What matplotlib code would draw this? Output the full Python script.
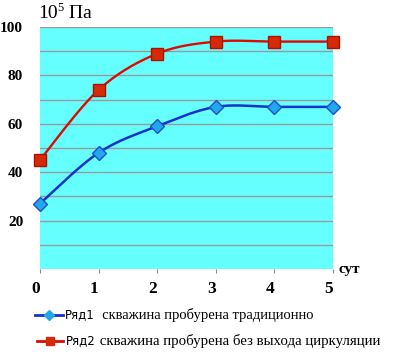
import numpy as np
import matplotlib
matplotlib.use("Agg")
import matplotlib.pyplot as plt
from matplotlib.lines import Line2D

days = [0, 1, 2, 3, 4, 5]
series1 = [27, 48, 59, 67, 67, 67]
series2 = [45, 74, 89, 94, 94, 94]
xticks = [0, 1, 2, 3, 4, 5]
yticks = [20, 40, 60, 80, 100]
label1_a = "Ряд1"
label1_b = "  скважина пробурена традиционно"
label2_a = "Ряд2"
label2_b = " скважина пробурена без выхода циркуляции"

W, H = 395, 361


def smooth(x, y, n=30):
    # Catmull-Rom style smoothing for drawing only (like Excel smoothed line)
    x = np.asarray(x, float); y = np.asarray(y, float)
    px = np.concatenate([[x[0]], x, [x[-1]]])
    py = np.concatenate([[y[0]], y, [y[-1]]])
    xs, ys = [], []
    for i in range(1, len(px) - 2):
        p0, p1, p2, p3 = [np.array([px[j], py[j]]) for j in (i - 1, i, i + 1, i + 2)]
        c1 = p1 + (p2 - p0) / 6
        c2 = p2 - (p3 - p1) / 6
        t = np.linspace(0, 1, n)[:, None]
        b = (1 - t) ** 3 * p1 + 3 * (1 - t) ** 2 * t * c1 + 3 * (1 - t) * t ** 2 * c2 + t ** 3 * p2
        xs.extend(b[:, 0]); ys.extend(b[:, 1])
    return np.array(xs), np.array(ys)


fig = plt.figure(figsize=(W / 100, H / 100), dpi=100)
ax = fig.add_axes([0.101, 0.255, 0.742, 0.670])
ax.set_facecolor("#66ffff")
ax.set_xlim(0, 5)
ax.set_ylim(0, 100)
for yv in range(10, 101, 10):
    ax.axhline(yv, color="#9a9a9a", lw=1.0, zorder=1)

blue = "#1433cc"
red = "#dd0a00"
sx, sy = smooth(days, series1)
ax.plot(sx, sy, color=blue, lw=1.8, zorder=3, clip_on=False)
ax.plot(days, series1, ls="none", marker="D", ms=7, mfc="#22a8e8", mec="#1a50d0", mew=1.0, zorder=4, clip_on=False)
sx, sy = smooth(days, series2)
ax.plot(sx, sy, color=red, lw=1.7, zorder=3, clip_on=False)
ax.plot(days, series2, ls="none", marker="s", ms=8, mfc="#d42a08", mec="#b01000", mew=1.0, zorder=4, clip_on=False)

for s in ax.spines.values():
    s.set_visible(False)
ax.set_xticks(xticks)
ax.set_yticks(yticks)
ax.tick_params(axis="x", length=3, color="#888888", pad=6)
ax.tick_params(axis="y", length=0, pad=12)
ax.set_xticklabels([str(v) for v in xticks], fontfamily="Liberation Serif", fontweight="bold", fontsize=12.5)
ax.set_yticklabels([str(v) for v in yticks], fontfamily="Liberation Serif", fontweight="bold", fontsize=11)
for lab in ax.get_xticklabels():
    lab.set_horizontalalignment("right")

# y-axis unit label
ty = 1 - 14 / H
t0 = fig.text(38 / W, ty, "10", fontfamily="Liberation Serif", fontsize=14, va="center", ha="left")
fig.canvas.draw()
b0 = t0.get_window_extent()
t1 = fig.text(b0.x1 / W, ty + 0.018, "5", fontfamily="Liberation Serif", fontsize=9, va="center", ha="left")
fig.canvas.draw()
b1 = t1.get_window_extent()
fig.text(b1.x1 / W, ty, " Па", fontfamily="Liberation Serif", fontsize=14, va="center", ha="left")

fig.text(0.857, 1 - 270 / H, "сут", fontfamily="Liberation Serif", fontweight="bold", fontsize=11, va="center", ha="left")

# legend
y1 = 1 - 315 / H
y2 = 1 - 341 / H
fig.add_artist(Line2D([35 / W, 63 / W], [y1, y1], color=blue, lw=2))
fig.add_artist(Line2D([49 / W], [y1], marker="D", ms=5, mfc="#22a8e8", mec="#22a8e8", ls="none"))
fig.add_artist(Line2D([37 / W, 63 / W], [y2, y2], color=red, lw=2))
fig.add_artist(Line2D([50 / W], [y2], marker="s", ms=6, mfc="#d42a08", mec="#d42a08", ls="none"))
t = fig.text(65 / W, y1, label1_a, fontfamily="DejaVu Sans", fontsize=8.5, va="center", ha="left")
fig.canvas.draw()
bb = t.get_window_extent()
fig.text(bb.x1 / W, y1, label1_b, fontfamily="Liberation Serif", fontsize=10.5, va="center", ha="left")
t2 = fig.text(66 / W, y2, label2_a, fontfamily="DejaVu Sans", fontsize=8.5, va="center", ha="left")
fig.canvas.draw()
bb2 = t2.get_window_extent()
fig.text(bb2.x1 / W, y2, label2_b, fontfamily="Liberation Serif", fontsize=10.7, va="center", ha="left")

fig.savefig("out.png", dpi=100)
